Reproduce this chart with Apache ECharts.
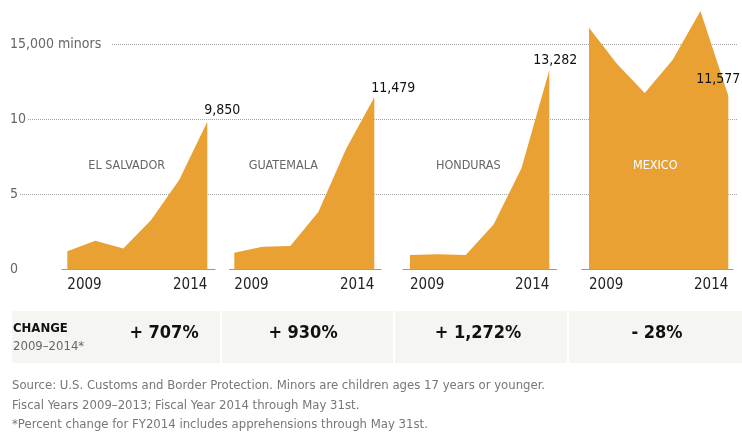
<!DOCTYPE html>
<html lang="en">
<head>
<meta charset="UTF-8">
<title>Unaccompanied minors apprehended at the border</title>
<style>
  html, body { margin: 0; padding: 0; background: #fff; }
  #main { width: 742px; height: 433px; }
</style>
</head>
<body>
<div id="main"></div>
<script src="https://cdn.jsdelivr.net/npm/echarts@6/dist/echarts.min.js"></script>
<script>
// data
var years = [2009, 2010, 2011, 2012, 2013, 2014];
var countries = ['EL SALVADOR', 'GUATEMALA', 'HONDURAS', 'MEXICO'];
var elSalvador = [1221, 1910, 1394, 3314, 5990, 9850];
var guatemala = [1115, 1517, 1565, 3835, 8068, 11479];
var honduras = [968, 1017, 974, 2997, 6747, 13282];
var mexico = [16114, 13724, 11768, 13974, 17240, 11577];
var yTicks = [0, 5000, 10000, 15000];
var xTicks = [2009, 2014];
var changeLabels = ['+ 707%', '+ 930%', '+ 1,272%', '- 28%'];
var footnotes = [
    'Source: U.S. Customs and Border Protection. Minors are children ages 17 years or younger.',
    'Fiscal Years 2009\u20132013; Fiscal Year 2014 through May 31st.',
    '*Percent change for FY2014 includes apprehensions through May 31st.'
];

var seriesValues = [elSalvador, guatemala, honduras, mexico];

// layout (pixels)
var FONT = "'Liberation Sans Narrow', 'DejaVu Sans Condensed', sans-serif";
var ORANGE = '#eaa133';
var plotTop = 44.5, plotHeight = 225;
// [axis line left, axis line right, x of 2009, x of 2014]
var panelBox = [[62, 215, 67.3, 207.3], [229.5, 381, 234.3, 374.3], [403, 556.5, 410, 549.3], [581.7, 733, 589, 728.3]];
var endLabelOffset = [[-3, 1], [-3, 3], [-16, 2], [-32, -4]];
var nameX = [126.7, 283.3, 468.3, 655.3];
var nameColor = ['#666', '#666', '#666', '#fff'];
var changeX = [164, 303, 478, 657];

var myChart = echarts.init(document.getElementById('main'));

var grids = [{ left: 10, right: 5, top: plotTop, height: plotHeight, outerBoundsMode: 'none' }];
var xAxes = [{ gridIndex: 0, type: 'value', min: 0, max: 1, show: false }];
var yAxes = [{
    gridIndex: 0,
    type: 'value',
    min: yTicks[0],
    max: yTicks[yTicks.length - 1],
    interval: yTicks[1] - yTicks[0],
    axisLine: { show: false },
    axisTick: { show: false },
    splitLine: { show: true, showMinLine: false, lineStyle: { color: '#a5a5a5', type: 'dotted', width: 1 } },
    axisLabel: {
        inside: true,
        margin: 0,
        color: '#666',
        fontSize: 14,
        fontFamily: FONT,
        backgroundColor: '#fff',
        padding: [2, 2, 2, 0],
        formatter: function (v) {
            return v === 15000 ? '15,000 minors  ' : String(v / 1000);
        }
    }
}];
var series = [];

seriesValues.forEach(function (vals, i) {
    var b = panelBox[i];
    var step = (b[3] - b[2]) / (years.length - 1);
    var g = i + 1;
    grids.push({ left: b[0], width: b[1] - b[0], top: plotTop, height: plotHeight, outerBoundsMode: 'none' });
    xAxes.push({
        gridIndex: g,
        type: 'value',
        min: years[0] - (b[2] - b[0]) / step,
        max: years[years.length - 1] + (b[1] - b[3]) / step,
        axisLine: { show: true, lineStyle: { color: '#999', width: 1 } },
        axisTick: { show: false },
        splitLine: { show: false },
        axisLabel: {
            customValues: xTicks,
            formatter: function (v) { return String(v); },
            alignMinLabel: 'left',
            alignMaxLabel: 'right',
            color: '#222',
            fontSize: 15,
            fontFamily: FONT,
            margin: 8
        }
    });
    yAxes.push({ gridIndex: g, type: 'value', min: 0, max: 15000, show: false, splitLine: { show: false } });
    series.push({
        name: countries[i],
        type: 'line',
        xAxisIndex: g,
        yAxisIndex: g,
        clip: false,
        showSymbol: true,
        symbol: 'circle',
        symbolSize: 0,
        silent: true,
        lineStyle: { width: 0 },
        areaStyle: { color: ORANGE, opacity: 1 },
        z: 3,
        data: vals.map(function (v, k) {
            var item = { value: [years[k], v] };
            if (k === vals.length - 1) {
                item.label = {
                    show: true,
                    position: 'top',
                    align: 'left',
                    offset: endLabelOffset[i],
                    color: '#111',
                    fontSize: 14,
                    fontFamily: FONT,
                    formatter: function (p) { return p.value[1].toLocaleString('en-US'); }
                };
            }
            return item;
        })
    });
});

// country names, change table, footnotes
var graphics = [];
countries.forEach(function (c, i) {
    graphics.push({
        type: 'text', x: nameX[i], y: 166, z: 10,
        style: { text: c, fill: nameColor[i], font: '12.5px ' + FONT, textAlign: 'center', textVerticalAlign: 'middle' }
    });
});
graphics.push({ type: 'rect', shape: { x: 12, y: 311, width: 730, height: 52 }, style: { fill: '#f5f5f1' }, z: 0 });
[220, 393, 567].forEach(function (x) {
    graphics.push({ type: 'rect', shape: { x: x, y: 311, width: 2, height: 52 }, style: { fill: '#fff' }, z: 1 });
});
graphics.push({ type: 'text', x: 13, y: 329, z: 2, style: { text: 'CHANGE', fill: '#111', font: 'bold 13px ' + FONT, textVerticalAlign: 'middle' } });
graphics.push({ type: 'text', x: 13, y: 347, z: 2, style: { text: years[0] + '\u2013' + years[years.length - 1] + '*', fill: '#666', font: '13px ' + FONT, textVerticalAlign: 'middle' } });
changeLabels.forEach(function (t, i) {
    graphics.push({
        type: 'text', x: changeX[i], y: 333, z: 2,
        style: { text: t, fill: '#111', font: 'bold 18px ' + FONT, textAlign: 'center', textVerticalAlign: 'middle' }
    });
});
footnotes.forEach(function (t, i) {
    graphics.push({
        type: 'text', x: 12, y: 386 + i * 19.5, z: 2,
        style: { text: t, fill: '#777', font: '13px ' + FONT, textVerticalAlign: 'middle' }
    });
});

var option = {
    animation: false,
    backgroundColor: '#fff',
    textStyle: { fontFamily: FONT },
    grid: grids,
    xAxis: xAxes,
    yAxis: yAxes,
    series: series,
    graphic: graphics
};
myChart.setOption(option);

window.onresize = function () {
    myChart.resize();
};
</script>
</body>
</html>
